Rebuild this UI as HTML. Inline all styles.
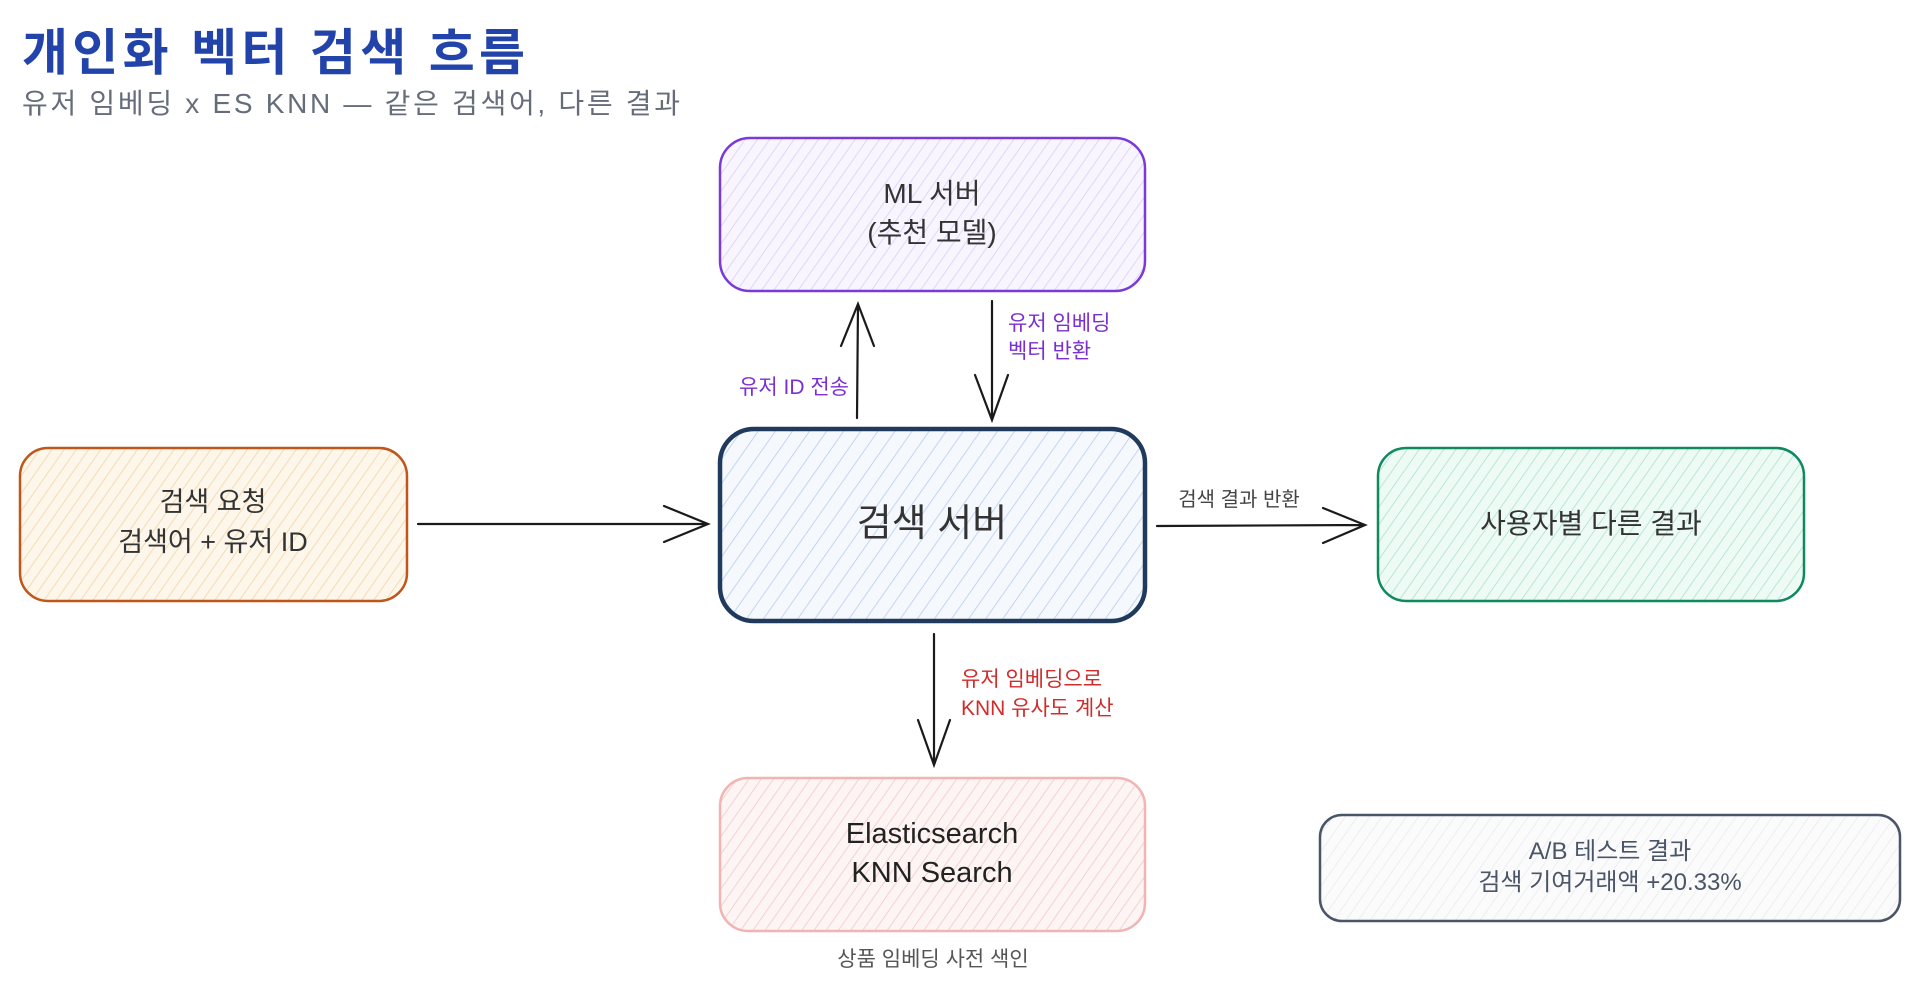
<!DOCTYPE html>
<html><head><meta charset="utf-8"><style>
html,body{margin:0;padding:0;background:#fff;width:1920px;height:995px;overflow:hidden}
svg text{font-family:"Liberation Sans","Noto Sans CJK KR",sans-serif}
</style></head><body>
<svg width="1920" height="995" viewBox="0 0 1920 995" xmlns="http://www.w3.org/2000/svg">
<defs>
<pattern id="hp" width="10" height="10" patternUnits="userSpaceOnUse" patternTransform="rotate(35)"><rect width="10" height="10" fill="#f8f5ff"/><line x1="0" y1="0" x2="0" y2="10" stroke="#d9ccf5" stroke-width="1.5"/></pattern>
<pattern id="hb" width="14" height="14" patternUnits="userSpaceOnUse" patternTransform="rotate(35)"><rect width="14" height="14" fill="#f5f8fd"/><line x1="0" y1="0" x2="0" y2="14" stroke="#b9cdee" stroke-width="1.6"/></pattern>
<pattern id="ho" width="10" height="10" patternUnits="userSpaceOnUse" patternTransform="rotate(35)"><rect width="10" height="10" fill="#fdf6ea"/><line x1="0" y1="0" x2="0" y2="10" stroke="#f3d3a3" stroke-width="1.5"/></pattern>
<pattern id="hg" width="10" height="10" patternUnits="userSpaceOnUse" patternTransform="rotate(35)"><rect width="10" height="10" fill="#eefaf5"/><line x1="0" y1="0" x2="0" y2="10" stroke="#a7e2c8" stroke-width="1.5"/></pattern>
<pattern id="hr" width="10" height="10" patternUnits="userSpaceOnUse" patternTransform="rotate(35)"><rect width="10" height="10" fill="#fdf4f4"/><line x1="0" y1="0" x2="0" y2="10" stroke="#f3c6c6" stroke-width="1.5"/></pattern>
<pattern id="hs" width="10" height="10" patternUnits="userSpaceOnUse" patternTransform="rotate(35)"><rect width="10" height="10" fill="#fbfbfc"/><line x1="0" y1="0" x2="0" y2="10" stroke="#e6e8ec" stroke-width="1.3"/></pattern>
</defs>

<text x="22" y="70" font-size="50" font-weight="bold" fill="#2244aa" textLength="503">개인화 벡터 검색 흐름</text>
<text x="22" y="113" font-size="28" fill="#666d7a" textLength="658">유저 임베딩 x ES KNN — 같은 검색어, 다른 결과</text>

<rect x="720" y="138" width="425" height="153" rx="30" fill="url(#hp)" stroke="#7b3ad8" stroke-width="2.5"/>
<text x="932" y="203" font-size="28" fill="#333" text-anchor="middle">ML 서버</text>
<text x="932" y="242" font-size="28" fill="#333" text-anchor="middle">(추천 모델)</text>

<rect x="720" y="429" width="425" height="192" rx="34" fill="url(#hb)" stroke="#1f3a5c" stroke-width="4.5"/>
<text x="932" y="536" font-size="38" fill="#333" text-anchor="middle">검색 서버</text>

<rect x="20" y="448" width="387" height="153" rx="28" fill="url(#ho)" stroke="#c0561a" stroke-width="2.5"/>
<text x="213" y="511" font-size="27" fill="#333" text-anchor="middle">검색 요청</text>
<text x="213" y="551" font-size="27" fill="#333" text-anchor="middle">검색어 + 유저 ID</text>

<rect x="1378" y="448" width="426" height="153" rx="28" fill="url(#hg)" stroke="#0e8a5e" stroke-width="2.5"/>
<text x="1591" y="533" font-size="28" fill="#333" text-anchor="middle">사용자별 다른 결과</text>

<rect x="720" y="778" width="425" height="153" rx="28" fill="url(#hr)" stroke="#f2b3b3" stroke-width="2.5"/>
<text x="932" y="843" font-size="29" fill="#222" text-anchor="middle">Elasticsearch</text>
<text x="932" y="882" font-size="29" fill="#222" text-anchor="middle">KNN Search</text>
<text x="933" y="966" font-size="21" fill="#555" text-anchor="middle">상품 임베딩 사전 색인</text>

<rect x="1320" y="815" width="580" height="106" rx="22" fill="url(#hs)" stroke="#4a5568" stroke-width="2.5"/>
<text x="1610" y="859" font-size="24" fill="#4a5568" text-anchor="middle">A/B 테스트 결과</text>
<text x="1610" y="890" font-size="24" fill="#4a5568" text-anchor="middle">검색 기여거래액 +20.33%</text>

<g stroke="#1a1a1a" stroke-width="2.2" fill="none" stroke-linecap="round">
<path d="M418 524 L708 524 M664 506 L708 524 L664 542"/>
<path d="M1157 526 L1365 525 M1323 508 L1365 525 L1323 543"/>
<path d="M857 418 L858 304 M841 346 L858 304 L874 346"/>
<path d="M992 301 L992 420 M975 375 L992 420 L1008 375"/>
<path d="M934 634 L934 765 M918 720 L934 765 L950 720"/>
</g>
<text x="1239" y="506" font-size="20" fill="#444" text-anchor="middle">검색 결과 반환</text>
<text x="849" y="394" font-size="21" fill="#7b2fd0" text-anchor="end">유저 ID 전송</text>
<text x="1008" y="330" font-size="21" fill="#7b2fd0">유저 임베딩</text>
<text x="1008" y="358" font-size="21" fill="#7b2fd0">벡터 반환</text>
<text x="961" y="686" font-size="21" fill="#d02c2c">유저 임베딩으로</text>
<text x="961" y="715" font-size="21" fill="#d02c2c">KNN 유사도 계산</text>
</svg>
</body></html>
